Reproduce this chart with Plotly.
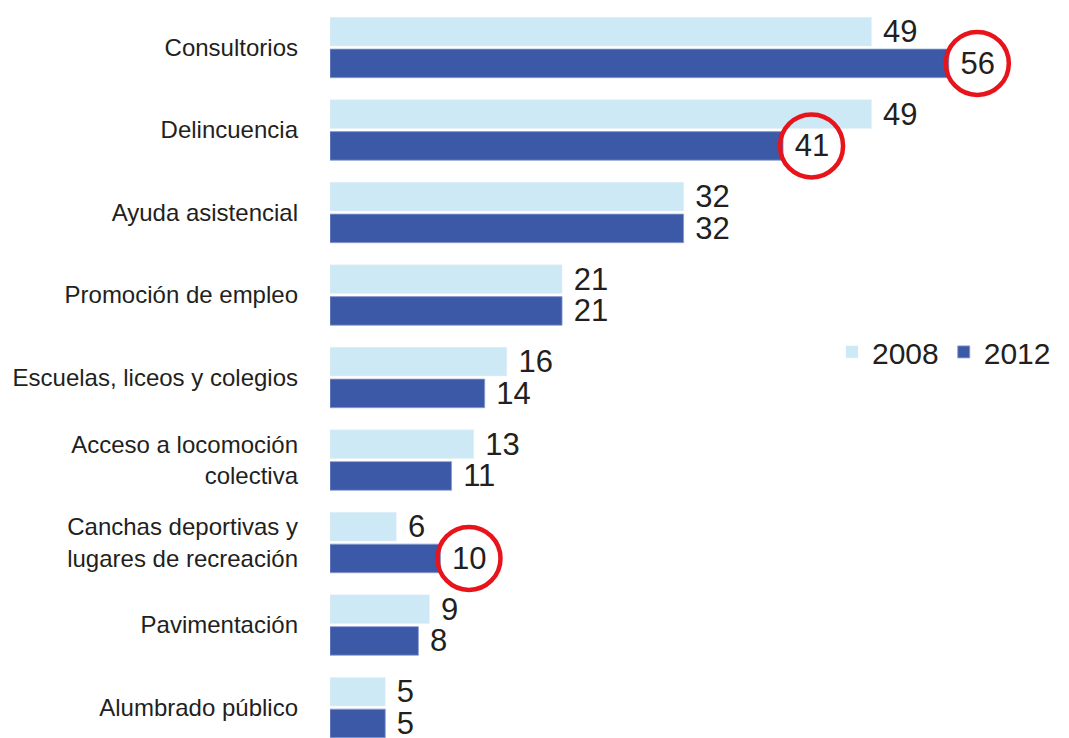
import plotly.graph_objects as go

# Categories and values
categories = [
    "Consultorios",
    "Delincuencia",
    "Ayuda asistencial",
    "Promoción de empleo",
    "Escuelas, liceos y colegios",
    "Acceso a locomoción<br>colectiva",
    "Canchas deportivas y<br>lugares de recreación",
    "Pavimentación",
    "Alumbrado público",
]
values_2008 = [49, 49, 32, 21, 16, 13, 6, 9, 5]
values_2012 = [56, 41, 32, 21, 14, 11, 10, 8, 5]
highlighted_2012 = ["Consultorios", "Delincuencia", "Canchas deportivas y<br>lugares de recreación"]

light_blue = "#CDE9F5"
dark_blue = "#3B59A7"
text_color = "#231F20"
font_family = "Liberation Sans, Arial, sans-serif"

fig = go.Figure()
fig.add_trace(go.Bar(
    y=categories, x=values_2008, name="2008", orientation="h",
    marker=dict(color=light_blue),
    text=values_2008, texttemplate="\u00a0%{x}", textposition="outside",
    constraintext="none", cliponaxis=False,
    textfont=dict(size=31, color=text_color, family=font_family),
))
fig.add_trace(go.Bar(
    y=categories, x=values_2012, name="2012", orientation="h",
    marker=dict(color=dark_blue, line=dict(color="#8B9CCF", width=0.8)),
    text=values_2012, texttemplate="\u00a0%{x}", textposition="outside",
    constraintext="none", cliponaxis=False,
    textfont=dict(size=31, color=text_color, family=font_family),
))

# Red circles around the highlighted 2012 values
bargap = 0.23
offset_2012 = (1 - bargap) / 4
for cat in highlighted_2012:
    i = categories.index(cat)
    fig.add_shape(
        type="circle", xref="x", yref="y",
        xsizemode="pixel", ysizemode="pixel",
        xanchor=values_2012[i], yanchor=i + offset_2012,
        x0=-3, x1=60, y0=-31.5, y1=31.5,
        line=dict(color="#E8141B", width=4.5),
    )

fig.update_layout(
    width=1069, height=738,
    margin=dict(l=322, r=0, t=0, b=0, autoexpand=False),
    paper_bgcolor="white", plot_bgcolor="white",
    barmode="group", bargap=bargap, bargroupgap=0.1,
    font=dict(family=font_family, color=text_color),
    showlegend=True,
    legend=dict(
        orientation="h", x=0.672, y=0.534, xanchor="left", yanchor="middle",
        font=dict(size=30, color=text_color, family=font_family),
        itemwidth=30, bgcolor="rgba(0,0,0,0)",
    ),
    xaxis=dict(range=[0, 67.6], showticklabels=False, showgrid=False,
               zeroline=False, showline=False, automargin=False),
    yaxis=dict(range=[8.466, -0.479], showgrid=False, zeroline=False, showline=False,
               ticks="", ticklabelstandoff=31, automargin=False,
               tickfont=dict(size=24, color=text_color, family=font_family)),
)

fig.write_html("out.html")
